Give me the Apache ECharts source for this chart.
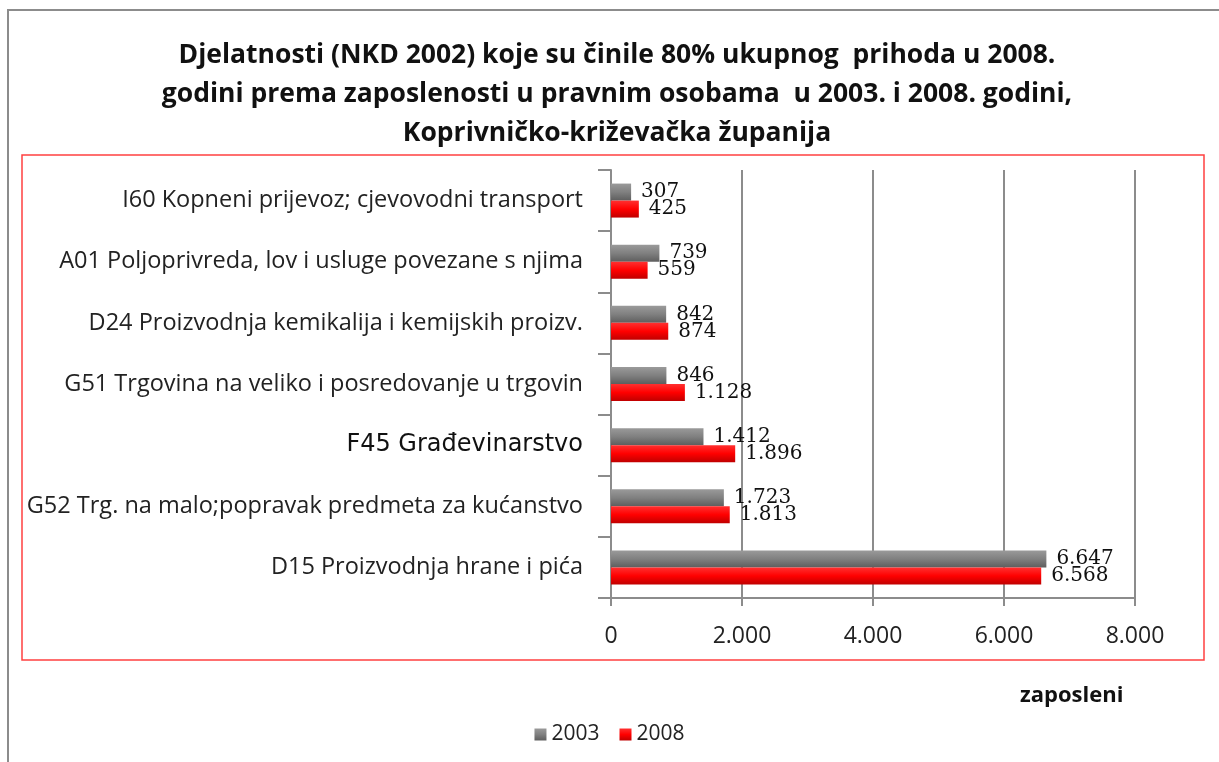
<!DOCTYPE html>
<html>
<head>
<meta charset="utf-8">
<script src="https://cdn.jsdelivr.net/npm/echarts@6/dist/echarts.min.js"></script>
<style>
  html, body { margin: 0; padding: 0; background: #fff; }
  #bar { width: 1219px; height: 762px; }
</style>
</head>
<body>
<div id="bar"></div>
<script>
// categories top -> bottom
const categories = [
  "I60 Kopneni prijevoz; cjevovodni transport",
  "A01 Poljoprivreda, lov i usluge povezane s njima",
  "D24 Proizvodnja kemikalija i kemijskih proizv.",
  "G51 Trgovina na veliko i posredovanje u trgovin",
  "F45 Građevinarstvo",
  "G52 Trg. na malo;popravak predmeta za kućanstvo",
  "D15 Proizvodnja hrane i pića"
];
const values2003 = [307, 739, 842, 846, 1412, 1723, 6647];
const values2008 = [425, 559, 874, 1128, 1896, 1813, 6568];
const seriesNames = ["2003", "2008"];
const xTicks = [0, 2000, 4000, 6000, 8000];

const fmt = v => String(v).replace(/\B(?=(\d{3})+(?!\d))/g, ".");

const chart = echarts.init(document.getElementById("bar"));

const labelFont = { fontFamily: "DejaVu Serif", fontSize: 20, color: "#111" };

chart.setOption({
  animation: false,
  title: {
    text: "Djelatnosti (NKD 2002) koje su činile 80% ukupnog  prihoda u 2008.\ngodini prema zaposlenosti u pravnim osobama  u 2003. i 2008. godini,\nKoprivničko-križevačka županija",
    left: 612,
    textAlign: "center",
    top: 31,
    textStyle: {
      fontFamily: "Open Sans",
      fontWeight: "bold",
      fontSize: 26.5,
      lineHeight: 39,
      color: "#111"
    }
  },
  legend: {
    data: seriesNames,
    left: "center",
    top: 719,
    itemWidth: 12,
    itemHeight: 12,
    itemGap: 20,
    icon: "rect",
    textStyle: { fontFamily: "Open Sans", fontSize: 21, color: "#222" }
  },
  grid: { left: 611, right: 84, top: 170, bottom: 164, containLabel: false },
  xAxis: {
    type: "value",
    min: xTicks[0],
    max: xTicks[xTicks.length - 1],
    interval: 2000,
    axisLine: { show: true, lineStyle: { color: "#8c8c8c", width: 2 } },
    axisTick: { show: true, length: 8, lineStyle: { color: "#8c8c8c", width: 2 } },
    splitLine: { show: true, lineStyle: { color: "#8c8c8c", width: 2 } },
    axisLabel: {
      margin: 27,
      fontFamily: "Open Sans",
      fontSize: 23,
      color: "#222",
      formatter: v => fmt(v)
    }
  },
  yAxis: {
    type: "category",
    inverse: true,
    data: categories,
    axisLine: { show: true, lineStyle: { color: "#8c8c8c", width: 2 } },
    axisTick: { show: true, length: 13, lineStyle: { color: "#8c8c8c", width: 2 } },
    axisLabel: {
      margin: 28,
      fontFamily: "Open Sans",
      fontSize: 23.5,
      color: "#222",
      formatter: v => (v.indexOf("F45") === 0 ? "{a|" + v + "}" : v),
      rich: {
        a: { fontFamily: "DejaVu Sans", fontSize: 24, color: "#111" }
      }
    }
  },
  series: [
    {
      name: seriesNames[0],
      type: "bar",
      data: values2003,
      barWidth: 17,
      barGap: "0%",
      itemStyle: {
        color: new echarts.graphic.LinearGradient(0, 0, 0, 1, [
          { offset: 0, color: "#9a9a9a" },
          { offset: 0.5, color: "#808080" },
          { offset: 1, color: "#5e5e5e" }
        ])
      },
      label: Object.assign({ show: true, position: "right", distance: 10, formatter: p => fmt(p.value) }, labelFont)
    },
    {
      name: seriesNames[1],
      type: "bar",
      data: values2008,
      barWidth: 17,
      itemStyle: {
        color: new echarts.graphic.LinearGradient(0, 0, 0, 1, [
          { offset: 0, color: "#ff3030" },
          { offset: 0.5, color: "#ff0000" },
          { offset: 1, color: "#c00000" }
        ])
      },
      label: Object.assign({ show: true, position: "right", distance: 10, formatter: p => fmt(p.value) }, labelFont)
    }
  ],
  graphic: [
    {
      type: "rect",
      shape: { x: 8, y: 10, width: 1230, height: 780 },
      style: { fill: "none", stroke: "#8c8c8c", lineWidth: 2 },
      silent: true
    },
    {
      type: "rect",
      shape: { x: 22, y: 155, width: 1182, height: 505 },
      style: { fill: "none", stroke: "#ff4040", lineWidth: 1.5 },
      silent: true
    },
    {
      type: "text",
      left: 1020,
      top: 685,
      style: { text: "zaposleni", fontFamily: "Open Sans", fontWeight: "bold", fontSize: 22, fill: "#111" }
    }
  ]
});
</script>
</body>
</html>
